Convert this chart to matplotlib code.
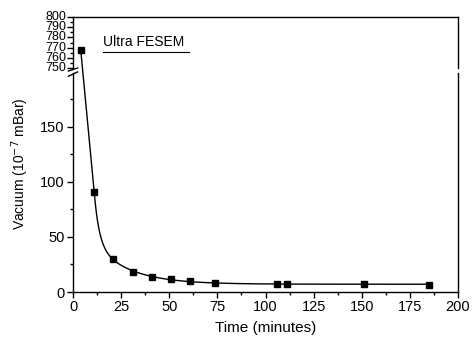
import numpy as np
import matplotlib
matplotlib.use("Agg")
import matplotlib.pyplot as plt
from matplotlib.ticker import MultipleLocator
from matplotlib.patches import ConnectionPatch

plt.rcParams['font.family'] = ['Liberation Sans', 'DejaVu Sans']

# Data
time_min = [4, 11, 21, 31, 41, 51, 61, 74, 106, 111, 151, 185]
vacuum = [768, 91, 30, 18, 14, 11.5, 10, 8.5, 7.5, 7.5, 7, 6]
x_ticks = [0, 25, 50, 75, 100, 125, 150, 175, 200]
y_ticks_low = [0, 50, 100, 150]
y_ticks_high = [750, 760, 770, 780, 790, 800]

# Fitted curve (double exponential decay, unweighted least squares) from the data
t = np.array(time_min, float)
y = np.array(vacuum, float)
best = None
for t1 in np.linspace(0.2, 5, 150):
    for t2 in np.linspace(3, 30, 200):
        if t2 <= t1 + 0.5:
            continue
        M = np.column_stack([np.exp(-t / t1), np.exp(-t / t2), np.ones_like(t)])
        coef, *_ = np.linalg.lstsq(M, y, rcond=None)
        if np.any(coef < 0):
            continue
        r = np.sum((M @ coef - y) ** 2)
        if best is None or r < best[0]:
            best = (r, t1, t2, coef)
_, t1, t2, coef = best


def fit(x):
    return coef[0] * np.exp(-x / t1) + coef[1] * np.exp(-x / t2) + coef[2]


tf = np.linspace(time_min[1], time_min[-1], 3000)
yf = fit(tf)

W, H = 472, 341
fig = plt.figure(figsize=(W / 100, H / 100), dpi=100)
L, R = 73 / W, 458 / W
ax_lo = fig.add_axes([L, 1 - 292 / H, R - L, (292 - 73) / H])
ax_hi = fig.add_axes([L, 1 - 68 / H, R - L, (68 - 17) / H])

ax_lo.plot(tf, yf, color='black', lw=1.0)
for ax in (ax_lo, ax_hi):
    ax.plot(time_min, vacuum, 's', color='black', ms=4.5, zorder=3)
    ax.set_xlim(0, 200)
    for s in ax.spines.values():
        s.set_linewidth(1.0)

# Steep part of the curve, drawn straight across the axis break
con = ConnectionPatch(xyA=(time_min[0], vacuum[0]), coordsA=ax_hi.transData,
                      xyB=(time_min[1], fit(time_min[1])), coordsB=ax_lo.transData,
                      color='black', lw=1.0)
fig.add_artist(con)

ax_lo.set_ylim(0, 199)
ax_hi.set_ylim(750, 800)

ax_lo.spines['top'].set_visible(False)
ax_hi.spines['bottom'].set_visible(False)

ax_lo.set_xticks(x_ticks)
ax_lo.xaxis.set_minor_locator(MultipleLocator(12.5))
ax_lo.set_yticks(y_ticks_low)
ax_lo.yaxis.set_minor_locator(MultipleLocator(25))
ax_lo.tick_params(axis='both', which='major', direction='out', length=4, width=1, labelsize=10.5, pad=2)
ax_lo.tick_params(axis='both', which='minor', direction='out', length=2.5, width=1)
ax_lo.tick_params(axis='x', which='both', top=False)
ax_lo.tick_params(axis='y', which='both', right=False)

ax_hi.set_yticks(y_ticks_high)
ax_hi.yaxis.set_minor_locator(MultipleLocator(5))
ax_hi.tick_params(axis='y', which='major', direction='out', length=4, width=1, labelsize=9, pad=1)
ax_hi.tick_params(axis='y', which='minor', direction='out', length=2.5, width=1)
ax_hi.tick_params(axis='x', which='both', bottom=False, top=False, labelbottom=False)
ax_hi.tick_params(axis='y', which='both', right=False)
for lab in ax_hi.get_yticklabels():
    lab.set_verticalalignment('center')

# Break marks on left spine
d = 0.012
kw = dict(color='black', lw=1.0, clip_on=False)
ax_lo.plot([-d, d], [0.985, 1.005], transform=ax_lo.transAxes, **kw)
ax_hi.plot([-d, d], [-0.06, 0.0], transform=ax_hi.transAxes, **kw)

ax_lo.set_xlabel('Time (minutes)', fontsize=11, labelpad=5)
fig.text(20 / W, 1 - 164 / H, r'Vacuum (10$^{\mathsf{-7}}$ mBar)', rotation=90, fontsize=10,
         ha='center', va='center')

ax_hi.text(0.078, 0.5, 'Ultra FESEM', transform=ax_hi.transAxes, fontsize=10,
           ha='left', va='center')
ax_hi.plot([0.078, 0.30], [0.32, 0.32], transform=ax_hi.transAxes, color='black', lw=0.8)

fig.savefig('out.png', dpi=100)
